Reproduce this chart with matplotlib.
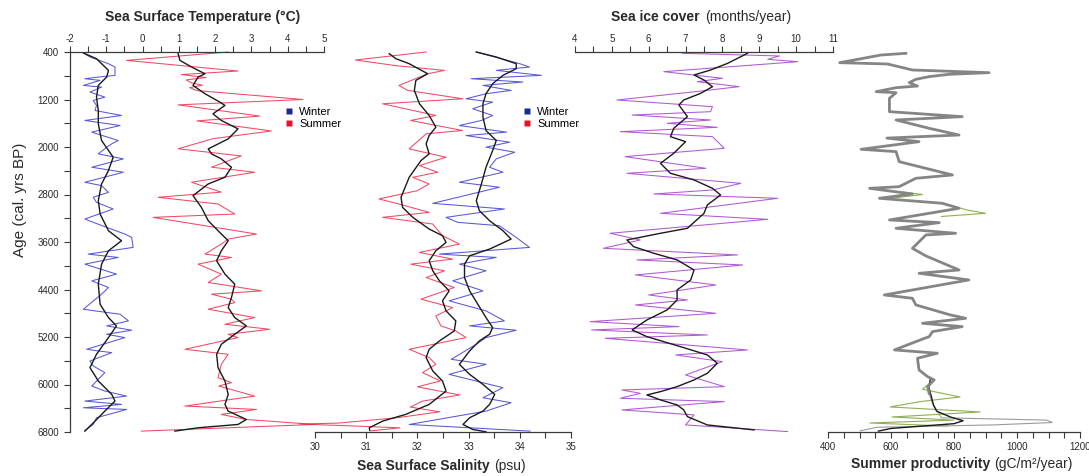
import matplotlib
matplotlib.use('Agg')
import matplotlib.pyplot as plt
from matplotlib.lines import Line2D
from matplotlib.ticker import MultipleLocator

plt.rcParams['font.family'] = ['Liberation Sans', 'DejaVu Sans']
plt.rcParams['axes.unicode_minus'] = False

# ---------------- data ----------------
age_ticks = [400, 1200, 2000, 2800, 3600, 4400, 5200, 6000, 6800]
sst_ticks = [-2, -1, 0, 1, 2, 3, 4, 5]
sss_ticks = [30, 31, 32, 33, 34, 35]
ice_ticks = [4, 5, 6, 7, 8, 9, 10, 11]
prod_ticks = [400, 600, 800, 1000, 1200]

# Winter SST
sst_w_age = [417, 484, 597, 653, 794, 822, 850, 878, 963, 991, 1075, 1160, 1216, 1300, 1385,
             1469, 1553, 1638, 1750, 1891, 1947, 2003, 2116, 2200, 2341, 2425, 2594, 2650, 2763, 2847,
             2932, 3044, 3213, 3269, 3466, 3522, 3691, 3804, 3860, 3973, 4141, 4254, 4366, 4479, 4732,
             4760, 4816, 4929, 5013, 5086, 5154, 5210, 5407, 5435, 5463, 5604, 5688, 5800, 6026, 6110,
             6195, 6279, 6335, 6392, 6420, 6560, 6673, 6774]
sst_w = [-1.63, -1.45, -0.94, -0.76, -0.76, -1.22, -1.59, -1.17, -1.63, -1.13, -1.45, -1.04, -1.36, -1.27, -1.31,
         -0.58, -1.59, -0.62, -1.40, -0.67, -0.85, -0.99, -1.22, -0.53, -1.40, -0.53, -1.59, -1.13, -0.94, -1.36,
         -1.27, -0.81, -1.59, -1.36, -0.49, -0.30, -0.26, -1.50, -0.67, -1.59, -0.72, -1.40, -0.94, -1.13, -1.63,
         -1.31, -0.62, -0.39, -0.99, -0.30, -0.99, -0.49, -1.54, -1.22, -0.85, -1.45, -1.36, -1.04, -1.40, -1.04,
         -0.44, -1.59, -0.58, -1.63, -0.44, -1.27, -1.36, -1.59]
sst_w_s_age = [417, 513, 709, 822, 963, 1160, 1385, 1610, 1891, 2172, 2397, 2622, 2903, 3129, 3410,
               3579, 3748, 3973, 4310, 4648, 4873, 5013, 5210, 5491, 5716, 5941, 6167, 6279, 6448, 6617, 6785]
sst_w_s = [-1.63, -1.27, -0.94, -0.99, -1.22, -1.27, -1.22, -1.22, -1.13, -0.81, -0.94, -1.13, -1.22, -1.17, -0.94,
           -0.58, -0.94, -1.13, -1.22, -1.17, -0.94, -0.72, -0.94, -1.27, -1.45, -1.22, -0.85, -0.76, -1.04, -1.31, -1.59]

# Summer SST
sst_s_age = [400, 541, 720, 780, 830, 870, 920, 960, 1000, 1050, 1200, 1290, 1480, 1560, 1730, 1860,
             2030, 2150, 2340, 2425, 2594, 2760, 2847, 2960, 3129, 3185, 3466, 3551, 3635, 3804, 3860,
             3973, 4141, 4282, 4423, 4479, 4563, 4620, 4732, 4873, 4985, 5070, 5154, 5210, 5407, 5491,
             5660, 5885, 5969, 6026, 6195, 6363, 6420, 6504, 6589, 6673, 6785]
sst_s = [2.36, -0.44, 2.63, 1.07, 1.75, 1.20, 1.35, 1.65, 1.30, 1.50, 4.42, 0.98, 3.23, 1.50, 3.55, 1.94,
         0.98, 2.72, 1.90, 3.09, 1.35, 2.17, 0.43, 2.08, 2.54, 0.29, 3.14, 2.36, 2.17, 1.72, 2.45,
         1.53, 2.17, 1.81, 3.28, 1.90, 2.45, 2.54, 1.81, 3.09, 2.27, 3.50, 2.36, 2.63, 1.17, 2.36,
         2.17, 2.08, 2.45, 2.10, 3.09, 1.17, 3.14, 2.17, 2.86, 4.74, -0.03]
sst_s_s_age = [428, 541, 653, 766, 822, 963, 1103, 1244, 1300, 1441, 1553, 1694, 1863, 2032, 2116, 2200,
               2341, 2510, 2622, 2819, 3016, 3241, 3410, 3579, 3748, 3916, 4141, 4310, 4535, 4704, 4873,
               5013, 5154, 5323, 5491, 5716, 5941, 6167, 6335, 6448, 6589, 6673, 6729, 6785]
sst_s_s = [0.98, 1.03, 1.35, 1.72, 1.53, 1.39, 1.72, 2.13, 2.27, 1.94, 2.17, 2.63, 2.36, 1.81, 1.90, 2.17,
           2.45, 2.27, 1.81, 1.39, 1.62, 1.81, 2.08, 2.36, 2.17, 2.04, 2.27, 2.54, 2.45, 2.36, 2.54,
           2.86, 2.54, 2.17, 2.04, 2.08, 2.27, 2.36, 2.27, 2.36, 2.86, 2.63, 1.53, 0.89]

# Summer SSS
sss_s_age = [400, 535, 630, 710, 766, 963, 1047, 1188, 1272, 1469, 1553, 1722, 1778, 2032, 2172, 2313,
             2425, 2510, 2622, 2735, 2875, 2960, 3101, 3185, 3297, 3494, 3635, 3776, 3888, 3973, 4085,
             4198, 4366, 4563, 4704, 4845, 5013, 5098, 5210, 5407, 5547, 5660, 5800, 5940, 6040, 6176,
             6280, 6380, 6460, 6560, 6650, 6666, 6700, 6730, 6780]
sss_s = [32.17, 30.79, 31.58, 32.53, 32.20, 31.64, 31.81, 32.89, 31.32, 32.36, 31.87, 32.88, 32.17, 31.84, 32.56, 32.04,
         32.40, 31.91, 32.23, 32.00, 31.25, 31.64, 32.23, 31.32, 32.30, 32.49, 32.82, 32.04, 32.69, 31.87, 32.53,
         32.17, 32.72, 32.07, 32.69, 32.36, 32.46, 32.75, 32.95, 31.84, 32.23, 32.36, 32.10, 32.45, 32.00, 32.83,
         32.10, 31.86, 32.44, 31.60, 30.45, 29.70, 30.80, 31.66, 31.10]
sss_s_s_age = [428, 513, 597, 766, 878, 1047, 1272, 1469, 1666, 1807, 1947, 2116, 2228, 2510, 2847, 3016,
               3185, 3382, 3494, 3607, 3748, 3916, 4085, 4254, 4423, 4591, 4760, 4929, 5098, 5266, 5407,
               5547, 5772, 5941, 6110, 6335, 6504, 6617, 6729, 6775]
sss_s_s = [31.45, 31.58, 31.84, 32.20, 31.97, 31.94, 32.04, 32.23, 32.36, 32.23, 32.17, 32.23, 32.07, 31.84, 31.68, 31.71,
           31.91, 32.23, 32.49, 32.56, 32.36, 32.23, 32.30, 32.43, 32.62, 32.49, 32.56, 32.75, 32.72, 32.43, 32.23,
           32.17, 32.30, 32.49, 32.56, 32.23, 31.77, 31.32, 31.06, 31.07]

# Winter SSS
sss_w_age = [400, 597, 653, 709, 794, 850, 906, 963, 1047, 1103, 1188, 1244, 1356, 1469, 1553, 1638,
             1750, 1807, 1919, 2003, 2088, 2200, 2341, 2425, 2594, 2678, 2949, 3044, 3185, 3269, 3326,
             3522, 3691, 3804, 3860, 3973, 4085, 4254, 4423, 4591, 4760, 4929, 5013, 5086, 5210, 5323,
             5576, 5660, 5829, 6054, 6223, 6307, 6448, 6673, 6785]
sss_w = [33.15, 34.00, 34.19, 33.54, 34.42, 33.05, 34.06, 33.28, 33.83, 33.34, 32.95, 33.47, 33.08, 33.47, 33.25, 32.82,
         33.74, 32.95, 33.80, 33.34, 33.90, 33.54, 33.41, 33.67, 32.82, 33.60, 32.30, 33.70, 32.56, 32.79, 33.60,
         33.93, 34.19, 32.43, 33.54, 32.82, 33.34, 32.69, 33.28, 32.62, 33.34, 33.70, 33.02, 33.93, 33.34, 33.15,
         32.66, 33.34, 32.62, 33.67, 33.28, 33.83, 33.34, 31.84, 34.20]
sss_w_s_age = [400, 484, 597, 681, 794, 934, 1103, 1272, 1497, 1722, 1891, 2060, 2341, 2622, 2904, 3072,
               3241, 3410, 3551, 3719, 3832, 3973, 4198, 4423, 4648, 4873, 5041, 5154, 5266, 5435, 5660,
               5829, 5998, 6167, 6335, 6448, 6560, 6673, 6757, 6797]
sss_w_s = [33.15, 33.54, 33.93, 33.93, 33.67, 33.47, 33.34, 33.28, 33.28, 33.34, 33.54, 33.47, 33.34, 33.25, 33.15, 33.21,
           33.41, 33.67, 33.83, 33.41, 33.02, 32.92, 32.92, 33.02, 33.18, 33.34, 33.47, 33.41, 33.21, 33.02, 32.82,
           33.02, 33.28, 33.51, 33.41, 33.28, 33.02, 32.89, 33.08, 33.34]

# Sea ice cover
ice_age = [422, 467, 523, 563, 731, 843, 900, 984, 1068, 1208, 1321, 1405, 1461, 1545, 1601, 1669,
           1741, 1826, 2022, 2162, 2359, 2443, 2612, 2724, 2791, 2864, 3117, 3218, 3453, 3566, 3706,
           3818, 3902, 3987, 4155, 4324, 4492, 4576, 4660, 4801, 4941, 5025, 5081, 5166, 5222, 5418,
           5502, 5615, 5839, 6036, 6092, 6148, 6232, 6288, 6428, 6512, 6681, 6793]
ice = [6.91, 9.55, 9.23, 10.05, 6.41, 8.00, 7.32, 8.45, 7.27, 5.14, 7.73, 7.68, 5.55, 7.68, 6.50, 7.86,
       5.23, 7.73, 8.05, 5.36, 7.55, 5.41, 8.50, 7.73, 6.14, 9.50, 6.32, 9.23, 4.95, 5.77, 4.77,
       8.41, 5.68, 8.55, 5.64, 7.82, 6.00, 7.05, 5.64, 7.82, 4.41, 6.82, 4.45, 7.59, 4.82, 8.68,
       6.73, 8.00, 7.00, 8.05, 5.27, 5.77, 5.23, 8.05, 5.27, 7.23, 7.00, 9.77]
ice_s_age = [422, 591, 703, 787, 872, 984, 1096, 1208, 1292, 1489, 1685, 1826, 1910, 2106, 2275, 2443,
             2555, 2696, 2808, 2976, 3117, 3369, 3453, 3566, 3678, 3790, 3902, 4071, 4239, 4408, 4576,
             4744, 4913, 5081, 5194, 5362, 5502, 5643, 5811, 5923, 6036, 6120, 6176, 6260, 6344, 6428,
             6541, 6681, 6765]
ice_s = [8.68, 8.14, 7.68, 7.23, 7.50, 7.73, 7.41, 6.95, 6.82, 7.05, 6.68, 6.59, 7.00, 6.68, 6.32, 6.59,
         7.23, 7.73, 7.95, 7.59, 7.50, 7.05, 6.32, 5.41, 5.59, 6.14, 6.77, 7.23, 7.14, 6.77, 6.77,
         6.50, 5.95, 5.55, 5.95, 6.86, 7.59, 7.86, 7.59, 7.23, 6.77, 6.32, 5.95, 6.32, 6.77, 6.95,
         7.05, 7.59, 8.86]

# Summer productivity
prod_age = [422, 451, 580, 602, 703, 748, 776, 815, 860, 916, 973, 1001, 1068, 1085, 1180, 1405,
            1489, 1545, 1685, 1798, 1850, 1910, 2039, 2078, 2247, 2303, 2471, 2527, 2668, 2696, 2791,
            2864, 2948, 3032, 3229, 3274, 3369, 3453, 3481, 3706, 3835, 4071, 4127, 4239, 4492, 4548,
            4660, 4829, 4885, 4969, 5025, 5109, 5194, 5278, 5418, 5474, 5558, 5755, 5867, 5923, 6036, 6148]
prod = [647, 568, 437, 589, 668, 911, 784, 721, 679, 658, 684, 616, 553, 616, 595, 595,
        826, 616, 721, 816, 587, 689, 505, 616, 626, 668, 795, 679, 626, 532, 668,
        563, 763, 816, 595, 753, 616, 805, 711, 668, 711, 816, 689, 847, 579, 668,
        679, 789, 837, 700, 826, 732, 721, 679, 611, 747, 684, 689, 716, 737, 716, 721]
prod_green1_age = [2760, 2800, 2864]
prod_green1 = [640, 700, 600]
prod_green2_age = [2980, 3060, 3117, 3170]
prod_green2 = [790, 840, 900, 760]
prod_green3_age = [5950, 6080, 6210, 6290, 6378, 6420, 6462, 6500, 6547, 6600, 6648, 6700]
prod_green3 = [730, 700, 819, 690, 597, 740, 883, 760, 603, 800, 533, 780]
prod_s_age = [5900, 6050, 6200, 6350, 6450, 6550, 6610, 6660, 6700, 6740, 6785]
prod_s = [725, 720, 728, 735, 745, 790, 829, 800, 700, 600, 560]
prod_tail_age = [6148, 6300, 6560, 6600, 6640, 6680, 6720, 6780]
prod_tail = [721, 730, 760, 1095, 1112, 930, 556, 502]

# ---------------- figure ----------------
W, H = 1089, 476
fig = plt.figure(figsize=(W / 100, H / 100), dpi=100)
fig.patch.set_facecolor('white')

TOP, BOT = 52, 432


def px_axes(x0, x1):
    return fig.add_axes([x0 / W, 1 - BOT / H, (x1 - x0) / W, (BOT - TOP) / H])


ax1 = px_axes(70, 324)
ax2 = px_axes(315, 571)
ax3 = px_axes(575, 833)
ax4 = px_axes(828, 1080)

axcol = '#3a3a3a'
for ax in (ax1, ax2, ax3, ax4):
    ax.set_facecolor('none')
    ax.set_ylim(6800, 400)
    for s in ax.spines.values():
        s.set_visible(False)
        s.set_color(axcol)
        s.set_linewidth(0.9)
    ax.tick_params(which='both', direction='out', length=4, width=0.8,
                   colors=axcol, labelcolor='#2a2a2a', labelsize=7)

# SST panel
ax1.spines['left'].set_visible(True)
ax1.spines['top'].set_visible(True)
ax1.xaxis.set_ticks_position('top')
ax1.set_xlim(-2, 5)
ax1.set_xticks(sst_ticks)
ax1.set_xticklabels([str(t) for t in sst_ticks])
ax1.xaxis.set_minor_locator(MultipleLocator(0.5))
ax1.set_yticks(age_ticks)
ax1.set_yticklabels([str(t) for t in age_ticks])
ax1.yaxis.set_minor_locator(MultipleLocator(400))
ax1.tick_params(axis='x', which='both', pad=2)
ax1.tick_params(axis='y', which='both', pad=4)

# SSS panel
ax2.spines['bottom'].set_visible(True)
ax2.set_xlim(30, 35)
ax2.set_xticks(sss_ticks)
ax2.set_xticklabels([str(t) for t in sss_ticks])
ax2.xaxis.set_minor_locator(MultipleLocator(0.5))
ax2.set_yticks([])
ax2.tick_params(axis='x', which='both', pad=3)

# Sea ice panel
ax3.spines['top'].set_visible(True)
ax3.xaxis.set_ticks_position('top')
ax3.set_xlim(4, 11)
ax3.set_xticks(ice_ticks)
ax3.set_xticklabels([str(t) for t in ice_ticks])
ax3.xaxis.set_minor_locator(MultipleLocator(0.5))
ax3.set_yticks([])
ax3.tick_params(axis='x', which='both', pad=2)

# Productivity panel
ax4.spines['bottom'].set_visible(True)
ax4.set_xlim(400, 1200)
ax4.set_xticks(prod_ticks)
ax4.set_xticklabels([str(t) for t in prod_ticks])
ax4.xaxis.set_minor_locator(MultipleLocator(50))
ax4.set_yticks([])
ax4.tick_params(axis='x', which='both', pad=3)

blue = '#3a3ad0'
red = '#ec2a48'
purple = '#a43ccc'
black = '#1a1a1a'
lw = 0.75

ax1.plot(sst_w, sst_w_age, color=blue, lw=lw, alpha=0.85, clip_on=False)
ax1.plot(sst_s, sst_s_age, color=red, lw=lw, alpha=0.85, clip_on=False)
ax1.plot(sst_w_s, sst_w_s_age, color=black, lw=1.0, clip_on=False)
ax1.plot(sst_s_s, sst_s_s_age, color=black, lw=1.0, clip_on=False)

ax2.plot(sss_s, sss_s_age, color=red, lw=lw, alpha=0.85, clip_on=False)
ax2.plot(sss_w, sss_w_age, color=blue, lw=lw, alpha=0.85, clip_on=False)
ax2.plot(sss_s_s, sss_s_s_age, color=black, lw=1.0, clip_on=False)
ax2.plot(sss_w_s, sss_w_s_age, color=black, lw=1.0, clip_on=False)

ax3.plot(ice, ice_age, color=purple, lw=lw, alpha=0.85, clip_on=False)
ax3.plot(ice_s, ice_s_age, color=black, lw=1.0, clip_on=False)

green = '#8fb050'
ax4.plot(prod_green1, prod_green1_age, color=green, lw=0.8, clip_on=False)
ax4.plot(prod_green2, prod_green2_age, color=green, lw=0.8, clip_on=False)
ax4.plot(prod_green3, prod_green3_age, color=green, lw=0.8, clip_on=False)
ax4.plot(prod_tail, prod_tail_age, color='#9a9a9a', lw=0.8, clip_on=False)
ax4.plot(prod_s, prod_s_age, color=black, lw=1.0, clip_on=False)
ax4.plot(prod, prod_age, color='#858585', lw=2.0, clip_on=False)


# legends
def add_legend(ax, x, y):
    handles = [Line2D([], [], marker='s', linestyle='none', markersize=5,
                      markerfacecolor='#1c2a90', markeredgecolor='none'),
               Line2D([], [], marker='s', linestyle='none', markersize=5,
                      markerfacecolor='#e8102c', markeredgecolor='none')]
    ax.legend(handles, ['Winter', 'Summer'], loc='upper left',
              bbox_to_anchor=(x / W, 1 - y / H), bbox_transform=fig.transFigure,
              frameon=False, fontsize=8, handlelength=0.8, handletextpad=0.5,
              labelspacing=0.2, borderpad=0, borderaxespad=0)


add_legend(ax1, 285, 107)
add_legend(ax2, 523, 107)

# titles
tc = '#2a2a2a'
fs = 10
fig.text(203 / W, 1 - 17 / H, 'Sea Surface Temperature (°C)', ha='center', va='center',
         fontsize=fs, fontweight='bold', color=tc)
fig.text(700 / W, 1 - 17 / H, 'Sea ice cover', ha='right', va='center',
         fontsize=fs, fontweight='bold', color=tc)
fig.text(705 / W, 1 - 17 / H, '(months/year)', ha='left', va='center',
         fontsize=fs, color=tc)
fig.text(490 / W, 1 - 466 / H, 'Sea Surface Salinity', ha='right', va='center',
         fontsize=fs, fontweight='bold', color=tc)
fig.text(494 / W, 1 - 466 / H, '(psu)', ha='left', va='center',
         fontsize=fs, color=tc)
fig.text(990 / W, 1 - 464 / H, 'Summer productivity', ha='right', va='center',
         fontsize=fs, fontweight='bold', color=tc)
fig.text(994 / W, 1 - 464 / H, '(gC/m²/year)', ha='left', va='center',
         fontsize=fs, color=tc)
fig.text(20 / W, 1 - 200 / H, 'Age (cal. yrs BP)', ha='center', va='center',
         rotation=90, fontsize=11, color=tc)

fig.savefig('out.png', dpi=100, facecolor='white')
